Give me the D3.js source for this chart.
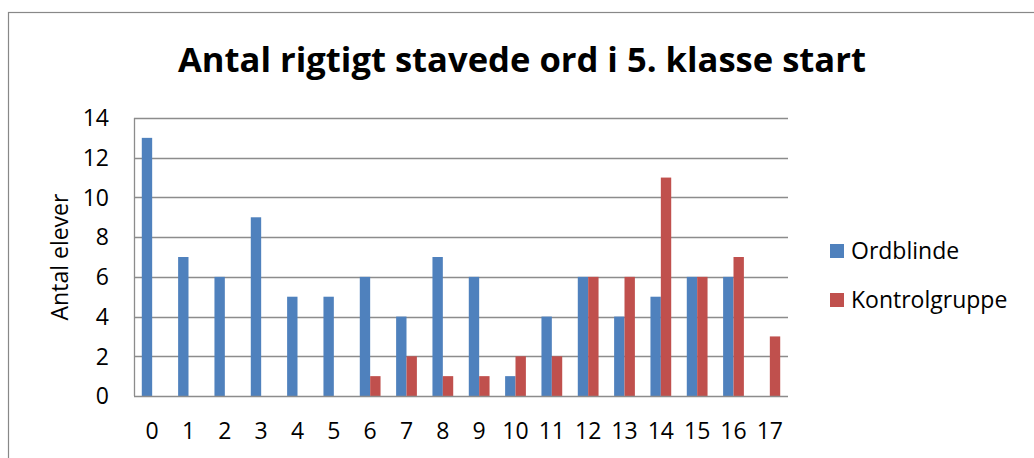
<!DOCTYPE html>
<html>
<head>
<meta charset="utf-8">
<script src="https://cdn.jsdelivr.net/npm/d3@7"></script>
<style>
  body { margin: 0; background: #fff; }
  text { font-family: "Open Sans", "Noto Sans", sans-serif; fill: #000; }
</style>
</head>
<body>
<svg id="chart" width="1034" height="458"></svg>
<script>
// data
const categories = d3.range(0, 18).map(String);
const ordblinde = [13, 7, 6, 9, 5, 5, 6, 4, 7, 6, 1, 4, 6, 4, 5, 6, 6, 0];
const kontrol = [0, 0, 0, 0, 0, 0, 1, 2, 1, 1, 2, 2, 6, 6, 11, 6, 7, 3];
const seriesNames = ["Ordblinde", "Kontrolgruppe"];
const yTicks = [0, 2, 4, 6, 8, 10, 12, 14];

const colors = ["#4F81BD", "#C0504D"];
const svg = d3.select("#chart");

// chart border (runs past the right/bottom edge like the screenshot)
svg.append("rect").attr("x", 8.5).attr("y", 12.5).attr("width", 1040).attr("height", 470)
  .attr("fill", "none").attr("stroke", "#888").attr("stroke-width", 1.2);

const plotL = 134, plotR = 788, plotT = 118, plotB = 396;

const x = d3.scaleBand().domain(categories).range([plotL, plotR]).paddingInner(0).paddingOuter(0);
const y = d3.scaleLinear().domain([0, 14]).range([plotB, plotT]);

// gridlines
svg.append("g").selectAll("line").data(yTicks.filter(d => d > 0)).join("line")
  .attr("x1", plotL).attr("x2", plotR)
  .attr("y1", d => Math.round(y(d)) + 0.5).attr("y2", d => Math.round(y(d)) + 0.5)
  .attr("stroke", "#8c8c8c").attr("stroke-width", 1.3);

// bars
const bw = x.bandwidth() / 3.5;
const groups = [ordblinde, kontrol];
groups.forEach((vals, si) => {
  svg.append("g").selectAll("rect").data(vals).join("rect")
    .attr("x", (d, i) => x(categories[i]) + x.bandwidth() / 2 - bw + si * bw)
    .attr("width", bw)
    .attr("y", d => y(d))
    .attr("height", d => plotB - y(d))
    .attr("fill", colors[si]);
});

// axes lines
svg.append("line").attr("x1", plotL + 0.5).attr("x2", plotL + 0.5).attr("y1", plotT).attr("y2", plotB)
  .attr("stroke", "#8c8c8c").attr("stroke-width", 1.3);
svg.append("line").attr("x1", plotL).attr("x2", plotR).attr("y1", plotB + 0.5).attr("y2", plotB + 0.5)
  .attr("stroke", "#8c8c8c").attr("stroke-width", 1.3);

// y tick labels
svg.append("g").selectAll("text").data(yTicks).join("text")
  .attr("x", 109).attr("y", d => y(d)).attr("dy", "0.36em")
  .attr("text-anchor", "end").attr("font-size", 23).text(d => d);

// x tick labels
svg.append("g").selectAll("text").data(categories).join("text")
  .attr("x", d => x(d) + x.bandwidth() / 2).attr("y", 439)
  .attr("text-anchor", "middle").attr("font-size", 23).text(d => d);

// y axis title
svg.append("text").attr("transform", "translate(68,257) rotate(-90)")
  .attr("text-anchor", "middle").attr("font-size", 23).text("Antal elever");

// title, fit to the width seen in the picture
const title = svg.append("text").attr("x", 522).attr("y", 72).attr("text-anchor", "middle")
  .attr("font-weight", "bold").attr("font-size", 34).text("Antal rigtigt stavede ord i 5. klasse start");
const tw = title.node().getComputedTextLength();
title.attr("font-size", 34 * 688 / tw);

// legend
const legend = svg.append("g").selectAll("g").data(seriesNames).join("g")
  .attr("transform", (d, i) => `translate(830,${251 + i * 49})`);
legend.append("rect").attr("x", 0).attr("y", -7).attr("width", 14).attr("height", 14)
  .attr("fill", (d, i) => colors[i]);
legend.append("text").attr("x", 21).attr("y", 0).attr("dy", "0.36em").attr("font-size", 23).text(d => d);
</script>
</body>
</html>
